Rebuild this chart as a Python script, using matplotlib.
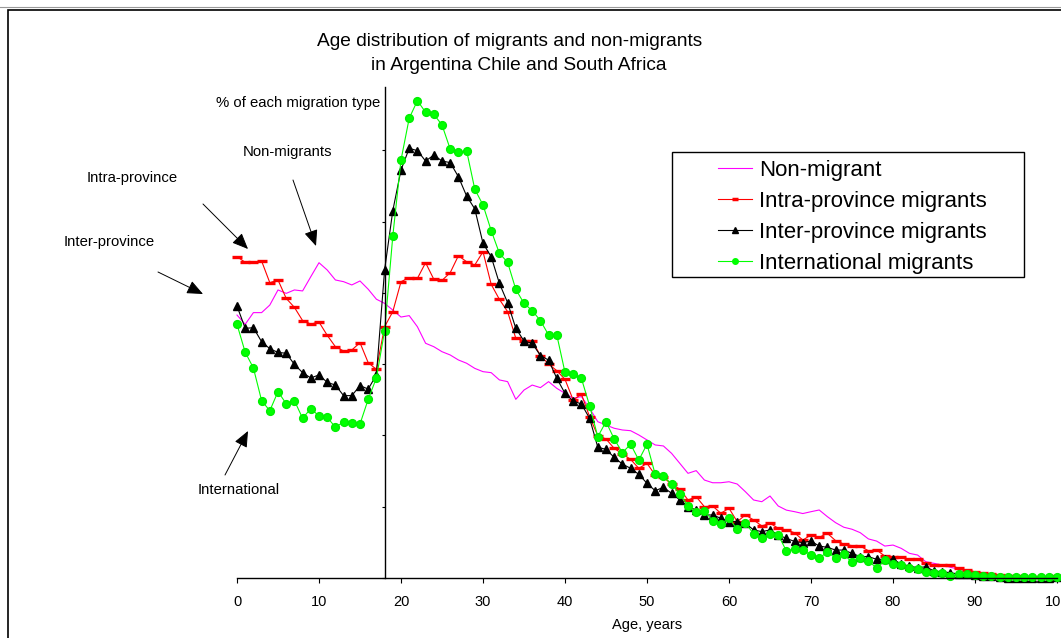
import matplotlib
matplotlib.use("Agg")
import matplotlib.pyplot as plt
from matplotlib.patches import Rectangle
from matplotlib.lines import Line2D

plt.rcParams['font.family'] = ['Liberation Sans', 'DejaVu Sans']

ages = list(range(0, 101))

non_migrant = [
    1.844, 1.779, 1.861, 1.861, 1.914, 2.020, 1.996, 2.020, 2.013, 2.113,
    2.211, 2.160, 2.090, 2.078, 2.055, 2.083, 2.025, 1.955, 1.926, 1.879,
    1.830, 1.840, 1.762, 1.646, 1.622, 1.587, 1.564, 1.529, 1.506, 1.470,
    1.447, 1.440, 1.389, 1.377, 1.253, 1.318, 1.353, 1.335, 1.377, 1.330,
    1.295, 1.260, 1.272, 1.190, 1.096, 1.073, 1.050, 1.038, 1.033, 1.003,
    0.968, 0.933, 0.926, 0.874, 0.804, 0.734, 0.753, 0.687, 0.668, 0.668,
    0.675, 0.659, 0.605, 0.547, 0.535, 0.575, 0.505, 0.476, 0.465, 0.452,
    0.465, 0.477, 0.430, 0.388, 0.356, 0.342, 0.318, 0.274, 0.259, 0.224,
    0.231, 0.208, 0.173, 0.161, 0.114, 0.103, 0.090, 0.075, 0.062, 0.050,
    0.040, 0.032, 0.025, 0.020, 0.015, 0.012, 0.010, 0.008, 0.007, 0.006,
    0.005]

intra_province = [
    2.253, 2.214, 2.214, 2.223, 2.071, 2.090, 1.961, 1.898, 1.805, 1.781,
    1.795, 1.702, 1.622, 1.592, 1.599, 1.650, 1.510, 1.463, 1.762, 1.868,
    2.078, 2.106, 2.101, 2.211, 2.095, 2.087, 2.141, 2.260, 2.218, 2.195,
    2.288, 2.059, 1.954, 1.868, 1.681, 1.664, 1.664, 1.560, 1.500, 1.454,
    1.393, 1.248, 1.290, 1.131, 0.998, 0.975, 0.909, 0.870, 0.832, 0.769,
    0.804, 0.722, 0.706, 0.657, 0.624, 0.547, 0.570, 0.500, 0.505, 0.454,
    0.489, 0.395, 0.442, 0.407, 0.365, 0.384, 0.349, 0.337, 0.317, 0.266,
    0.302, 0.285, 0.313, 0.262, 0.238, 0.227, 0.224, 0.191, 0.196, 0.154,
    0.150, 0.145, 0.133, 0.131, 0.103, 0.091, 0.091, 0.091, 0.068, 0.056,
    0.044, 0.033, 0.028, 0.021, 0.016, 0.014, 0.009, 0.009, 0.009, 0.009,
    0.014]

inter_province = [
    1.907, 1.751, 1.755, 1.657, 1.608, 1.582, 1.576, 1.498, 1.440, 1.403,
    1.424, 1.372, 1.353, 1.279, 1.279, 1.349, 1.325, 1.424, 2.160, 2.576,
    2.861, 3.013, 2.997, 2.924, 2.966, 2.924, 2.913, 2.814, 2.679, 2.588,
    2.347, 2.253, 2.066, 1.931, 1.751, 1.662, 1.646, 1.560, 1.528, 1.400,
    1.295, 1.241, 1.220, 1.120, 0.917, 0.902, 0.846, 0.799, 0.769, 0.727,
    0.664, 0.612, 0.636, 0.594, 0.547, 0.500, 0.477, 0.442, 0.442, 0.419,
    0.395, 0.395, 0.384, 0.337, 0.325, 0.337, 0.302, 0.278, 0.256, 0.248,
    0.259, 0.224, 0.215, 0.196, 0.196, 0.173, 0.150, 0.150, 0.131, 0.131,
    0.131, 0.098, 0.084, 0.072, 0.079, 0.049, 0.044, 0.037, 0.028, 0.028,
    0.021, 0.016, 0.012, 0.007, 0.002, 0.002, 0.002, 0.002, 0.000, 0.000,
    0.007]

international = [
    1.779, 1.583, 1.473, 1.244, 1.173, 1.307, 1.222, 1.244, 1.120, 1.188,
    1.136, 1.127, 1.057, 1.094, 1.089, 1.080, 1.253, 1.403, 1.734, 2.398,
    2.931, 3.224, 3.347, 3.266, 3.252, 3.177, 3.008, 2.987, 2.997, 2.726,
    2.616, 2.436, 2.277, 2.214, 2.024, 1.926, 1.875, 1.805, 1.704, 1.704,
    1.442, 1.428, 1.400, 1.208, 0.991, 1.096, 0.975, 0.879, 0.938, 0.827,
    0.938, 0.727, 0.715, 0.659, 0.589, 0.507, 0.465, 0.472, 0.402, 0.379,
    0.419, 0.342, 0.388, 0.309, 0.278, 0.309, 0.302, 0.190, 0.205, 0.196,
    0.161, 0.138, 0.184, 0.138, 0.166, 0.110, 0.143, 0.122, 0.068, 0.126,
    0.098, 0.091, 0.072, 0.061, 0.044, 0.037, 0.037, 0.014, 0.028, 0.026,
    0.021, 0.014, 0.014, 0.009, 0.009, 0.007, 0.005, 0.009, 0.005, 0.005,
    0.009]

x_ticks = [0, 10, 20, 30, 40, 50, 60, 70, 80, 90, 100]
y_ticks = [0, 0.5, 1.0, 1.5, 2.0, 2.5, 3.0]
series_labels = ["Non-migrant", "Intra-province migrants",
                 "Inter-province migrants", "International migrants"]

W, H = 1061, 638
fig = plt.figure(figsize=(W / 100, H / 100), dpi=100)
fig.patch.set_facecolor('white')

def fx(px):
    return px / W

def fy(py):
    return (H - py) / H

ax_left, ax_right, ax_top, ax_bottom = 237, 1057, 87, 578
ax = fig.add_axes([fx(ax_left), fy(ax_bottom), (ax_right - ax_left) / W,
                   (ax_bottom - ax_top) / H])
ax.set_facecolor('none')

ymax = (ax_bottom - ax_top) / 142.6
ax.set_xlim(0, 100)
ax.set_ylim(0, ymax)

lw = 0.8
ax.plot(ages, non_migrant, color='#FF00FF', lw=lw, label=series_labels[0], clip_on=False)
ax.plot(ages, intra_province, color='#FF0000', lw=lw, marker='_', ms=6.5, mew=2.4,
        label=series_labels[1], clip_on=False)
ax.plot(ages, inter_province, color='black', lw=lw, marker='^', ms=6.3,
        label=series_labels[2], clip_on=False)
ax.plot(ages, international, color='#00FF00', lw=lw, marker='o', ms=5.6,
        mec='#00EE00', label=series_labels[3], clip_on=False)

# spines
for s in ['top', 'right']:
    ax.spines[s].set_visible(False)
ax.spines['left'].set_position(('data', 18))
ax.spines['left'].set_linewidth(1.0)
ax.spines['bottom'].set_linewidth(1.0)

ax.set_xticks(x_ticks)
ax.set_xticklabels([str(t) for t in x_ticks], fontsize=10.5)
ax.set_yticks(y_ticks)
ax.set_yticklabels([])
ax.tick_params(axis='x', direction='out', length=3.5, width=0.8, pad=9)
ax.tick_params(axis='y', direction='out', length=2.2, width=0.8)
ax.set_xlabel("Age, years", fontsize=10.5, labelpad=6)

# y-axis label at top of vertical axis
fig.text(fx(380), fy(103), "% of each migration type", ha='right', va='center',
         fontsize=10.7)

# title
fig.text(fx(510), fy(42), "Age distribution of migrants and non-migrants",
         ha='center', va='center', fontsize=13.8)
fig.text(fx(519), fy(65), "in Argentina Chile and South Africa",
         ha='center', va='center', fontsize=13.8)

# legend
handles = [
    Line2D([], [], color='#FF00FF', lw=lw),
    Line2D([], [], color='#FF0000', lw=lw, marker='_', ms=5, mew=2.5),
    Line2D([], [], color='black', lw=lw, marker='^', ms=4),
    Line2D([], [], color='#00FF00', lw=lw, marker='o', ms=4),
]
leg = fig.legend(handles, series_labels, loc='upper left',
                 bbox_to_anchor=(fx(702), fy(144)), frameon=False,
                 fontsize=16, handlelength=1.55, handletextpad=0.3,
                 labelspacing=0.45, borderpad=0.2)
fig.patches.append(Rectangle((fx(672), fy(277)), fx(1024) - fx(672),
                             fy(152) - fy(277), fill=False, lw=1.0,
                             edgecolor='black', transform=fig.transFigure))

# annotations
ann = [
    ("Non-migrants", (288, 152), (293, 180), (316, 246)),
    ("Intra-province", (132, 178), (203, 204), (248, 249)),
    ("Inter-province", (109, 242), (158, 272), (203, 294)),
    ("International", (239, 490), (225, 475), (248, 431)),
]
for txt, tpos, start, tip in ann:
    fig.text(fx(tpos[0]), fy(tpos[1]), txt, ha='center', va='center', fontsize=10.7)
    ax.annotate("", xy=(fx(tip[0]), fy(tip[1])), xycoords='figure fraction',
                xytext=(fx(start[0]), fy(start[1])), textcoords='figure fraction',
                arrowprops=dict(arrowstyle='-|>,head_length=0.7,head_width=0.3',
                                color='black', lw=0.7, shrinkA=0, shrinkB=0,
                                mutation_scale=14))

# outer frame
fig.patches.append(Rectangle((fx(8), -0.1), 1.2, fy(10) + 0.1, fill=False,
                             lw=1.2, edgecolor='black', transform=fig.transFigure,
                             clip_on=False))
fig.add_artist(Line2D([0, 1], [fy(7), fy(7)], color='#999999', lw=0.8,
                      transform=fig.transFigure))

fig.savefig('out.png', dpi=100)
